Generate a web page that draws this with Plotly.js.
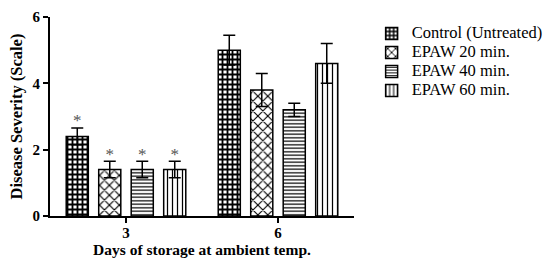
<!DOCTYPE html>
<html><head><meta charset="utf-8">
<script src="https://cdn.plot.ly/plotly-3.0.1.min.js"></script>
<style>html,body{margin:0;padding:0;background:#fff}#c{width:548px;height:261px}</style>
</head><body><div id="c"></div>
<script>
const days = ["3", "6"];
const seriesNames = ["Control (Untreated)", "EPAW 20 min.", "EPAW 40 min.", "EPAW 60 min."];
const control = [2.4, 5.0];
const epaw20 = [1.4, 3.8];
const epaw40 = [1.4, 3.2];
const epaw60 = [1.4, 4.6];
const controlErr = [0.25, 0.45];
const epaw20Err = [0.25, 0.5];
const epaw40Err = [0.25, 0.2];
const epaw60Err = [0.25, 0.6];
const starY = [[2.83, null], [1.83, null], [1.83, null], [1.83, null]];
const starText = [["*", ""], ["*", ""], ["*", ""], ["*", ""]];

const SERIF = "Liberation Serif, Times New Roman, serif";
const values = [control, epaw20, epaw40, epaw60];
const errs = [controlErr, epaw20Err, epaw40Err, epaw60Err];
const patterns = [
  {shape: "+", fgcolor: "#000", bgcolor: "#fff", size: 5, solidity: 0.6},
  {shape: "x", fgcolor: "#000", bgcolor: "#fff", size: 7, solidity: 0.3},
  {shape: "-", fgcolor: "#000", bgcolor: "#fff", size: 3.5, solidity: 0.35},
  {shape: "|", fgcolor: "#000", bgcolor: "#fff", size: 5, solidity: 0.25}
];
const traces = [];
values.forEach((v, i) => {
  traces.push({
    type: "bar", x: days, y: v, name: '<span style="font-size:16.5px">' + seriesNames[i] + '</span>',
    offsetgroup: String(i),
    marker: {color: "#fff", line: {color: "#000", width: 1.5}, pattern: patterns[i]},
    error_y: {type: "data", array: errs[i], visible: true, color: "#000", thickness: 1.5, width: 6}
  });
});
values.forEach((v, i) => {
  traces.push({
    type: "scatter", mode: "text", x: days, y: starY[i], text: starText[i],
    offsetgroup: String(i), showlegend: false, hoverinfo: "skip",
    textfont: {family: SERIF, size: 17, color: "#555"}
  });
});
const layout = {
  width: 548, height: 261,
  margin: {l: 50, r: 194, t: 17, b: 45, autoexpand: false},
  paper_bgcolor: "#fff", plot_bgcolor: "#fff",
  barmode: "group", bargap: 0.145, bargroupgap: 0.32,
  scattermode: "group", scattergap: 0.145,
  font: {family: SERIF, color: "#000", size: 12},
  showlegend: true,
  legend: {x: 1.058, y: 0.99, xanchor: "left", yanchor: "top", font: {family: SERIF, size: 12, color: "#000"}, tracegroupgap: 0, itemwidth: 30},
  xaxis: {
    type: "category", showline: true, linecolor: "#000", linewidth: 2, showgrid: false, zeroline: false,
    ticks: "outside", ticklen: 5, tickwidth: 2, tickcolor: "#000", ticklabelstandoff: -3,
    tickfont: {family: SERIF, size: 15, color: "#000", weight: "bold"},
    title: {text: "<b>Days of storage at ambient temp.</b>", font: {family: SERIF, size: 15.5, color: "#000"}, standoff: 4}
  },
  yaxis: {
    range: [0, 6], tickvals: [0, 2, 4, 6], showline: true, linecolor: "#000", linewidth: 2,
    showgrid: false, zeroline: false, ticks: "outside", ticklen: 5, tickwidth: 2, tickcolor: "#000",
    tickfont: {family: SERIF, size: 15, color: "#000", weight: "bold"},
    title: {text: "<b>Disease Severity (Scale)</b>", font: {family: SERIF, size: 16.5, color: "#000"}, standoff: 6}
  }
};
Plotly.newPlot("c", traces, layout, {displayModeBar: false, staticPlot: true});
</script></body></html>
